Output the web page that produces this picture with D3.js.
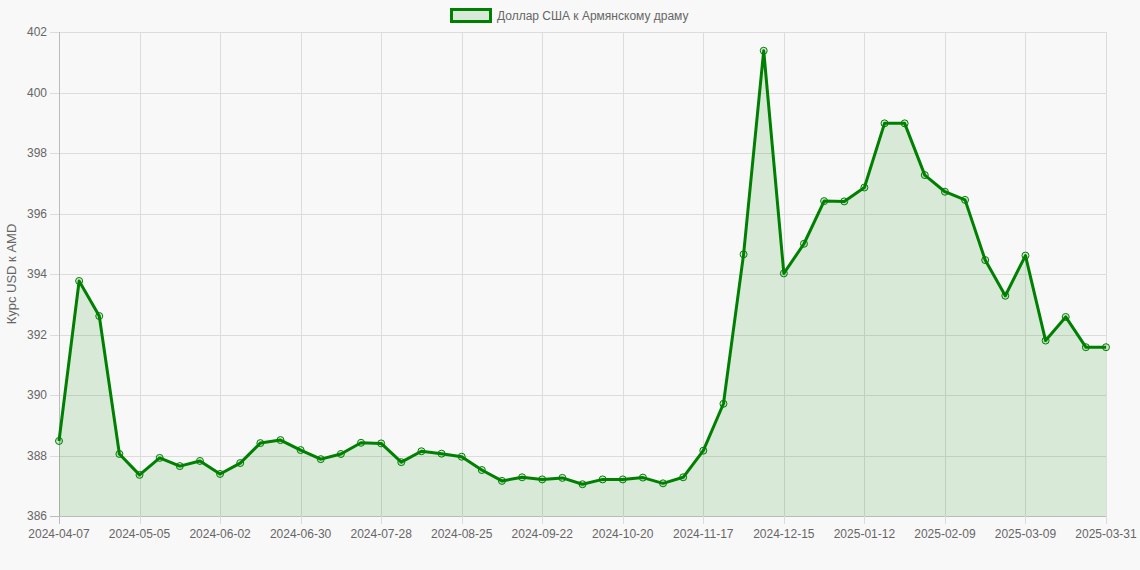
<!DOCTYPE html>
<html>
<head>
<meta charset="utf-8">
<script src="https://cdn.jsdelivr.net/npm/d3@7"></script>
<style>
  html, body { margin: 0; padding: 0; background: #f8f8f8; }
  svg { display: block; }
  text { font-family: "Liberation Sans", Arial, Helvetica, sans-serif; }
</style>
</head>
<body>
<svg id="chart" width="1140" height="570"></svg>
<script>
const dates = [
  "2024-04-07","2024-04-14","2024-04-21","2024-04-28",
  "2024-05-05","2024-05-12","2024-05-19","2024-05-26",
  "2024-06-02","2024-06-09","2024-06-16","2024-06-23","2024-06-30",
  "2024-07-07","2024-07-14","2024-07-21","2024-07-28",
  "2024-08-04","2024-08-11","2024-08-18","2024-08-25",
  "2024-09-01","2024-09-08","2024-09-15","2024-09-22","2024-09-29",
  "2024-10-06","2024-10-13","2024-10-20","2024-10-27",
  "2024-11-03","2024-11-10","2024-11-17","2024-11-24",
  "2024-12-01","2024-12-08","2024-12-15","2024-12-22","2024-12-29",
  "2025-01-05","2025-01-12","2025-01-19","2025-01-26",
  "2025-02-02","2025-02-09","2025-02-16","2025-02-23",
  "2025-03-02","2025-03-09","2025-03-16","2025-03-23","2025-03-30","2025-03-31"
];
const rates = [
  388.48, 393.77, 392.61, 388.05, 387.36, 387.92, 387.65, 387.82,
  387.39, 387.75, 388.41, 388.51, 388.18, 387.88, 388.05, 388.42,
  388.40, 387.78, 388.14, 388.06, 387.96, 387.52, 387.16, 387.28,
  387.21, 387.26, 387.05, 387.21, 387.21, 387.27, 387.08, 387.28,
  388.16, 389.71, 394.65, 401.38, 394.02, 395.00, 396.41, 396.40,
  396.86, 398.98, 398.98, 397.27, 396.72, 396.45, 394.46, 393.28,
  394.61, 391.80, 392.58, 391.58, 391.58
];
const xTickLabels = [
  "2024-04-07","2024-05-05","2024-06-02","2024-06-30","2024-07-28",
  "2024-08-25","2024-09-22","2024-10-20","2024-11-17","2024-12-15",
  "2025-01-12","2025-02-09","2025-03-09","2025-03-31"
];
const yTicks = [386, 388, 390, 392, 394, 396, 398, 400, 402];
const seriesName = "Доллар США к Армянскому драму";
const yTitle = "Курс USD к AMD";

(function () {
const svg = d3.select("#chart");
const pLeft = 59, pRight = 1106, pTop = 32, pBottom = 516;
const green = "#008000";

const x = d3.scalePoint().domain(dates).range([pLeft, pRight]);
const y = d3.scaleLinear().domain([386, 402]).range([pBottom, pTop]);

// grid
const grid = svg.append("g");
grid.selectAll("line.h").data(yTicks).join("line")
  .attr("x1", pLeft - 9).attr("x2", pRight)
  .attr("y1", d => Math.round(y(d)) + 0.5).attr("y2", d => Math.round(y(d)) + 0.5)
  .attr("stroke", d => d === 386 ? "#bbb" : "#dcdcdc").attr("stroke-width", 1);
grid.selectAll("line.v").data(xTickLabels).join("line")
  .attr("x1", d => Math.round(x(d)) + 0.5).attr("x2", d => Math.round(x(d)) + 0.5)
  .attr("y1", pTop).attr("y2", pBottom + 8)
  .attr("stroke", d => d === dates[0] ? "#bbb" : "#dcdcdc").attr("stroke-width", 1);

// area + line
const area = d3.area().x((d, i) => x(dates[i])).y0(y(386)).y1(d => y(d));
svg.append("path").datum(rates).attr("d", area)
  .attr("fill", green).attr("fill-opacity", 0.13);
const line = d3.line().x((d, i) => x(dates[i])).y(d => y(d));
svg.append("path").datum(rates).attr("d", line)
  .attr("fill", "none").attr("stroke", green).attr("stroke-width", 3)
  .attr("stroke-linejoin", "round");
svg.append("g").selectAll("circle").data(rates).join("circle")
  .attr("cx", (d, i) => x(dates[i])).attr("cy", d => y(d)).attr("r", 3.5)
  .attr("fill", green).attr("fill-opacity", 0.15)
  .attr("stroke", green).attr("stroke-width", 1);

// axes labels
svg.append("g").selectAll("text").data(yTicks).join("text")
  .attr("x", 47).attr("y", d => y(d)).attr("dy", "0.35em")
  .attr("text-anchor", "end").attr("font-size", 12).attr("fill", "#666")
  .text(d => d);
svg.append("g").selectAll("text").data(xTickLabels).join("text")
  .attr("x", d => x(d)).attr("y", 538)
  .attr("text-anchor", "middle").attr("font-size", 12).attr("fill", "#666")
  .text(d => d);

svg.append("text")
  .attr("transform", "translate(16," + ((pTop + pBottom) / 2) + ") rotate(-90)")
  .attr("text-anchor", "middle").attr("font-size", 13).attr("fill", "#666")
  .text(yTitle);

// legend
const lg = svg.append("g");
lg.append("rect").attr("x", 451.5).attr("y", 9.5).attr("width", 39).attr("height", 12)
  .attr("fill", "#d9e9d9").attr("stroke", green).attr("stroke-width", 3);
lg.append("text").attr("x", 497).attr("y", 19.5).attr("font-size", 12).attr("fill", "#666")
  .text(seriesName);
})();
</script>
</body>
</html>
